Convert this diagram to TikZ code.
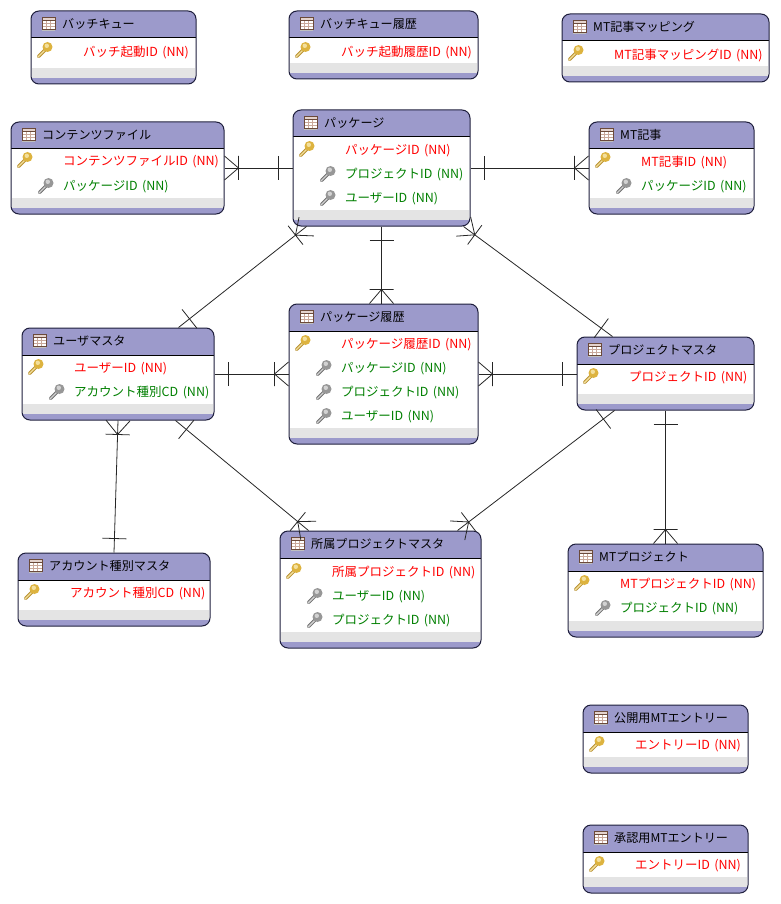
\documentclass[tikz,border=0pt]{standalone}
\usepackage{fontspec}
\setmainfont[WordSpace=1.6]{Noto Sans CJK JP}
\usetikzlibrary{calc,decorations.markings}
\definecolor{boxhead}{HTML}{9C9ACB}
\definecolor{boxline}{HTML}{1E1E3C}
\definecolor{boxgrey}{HTML}{E4E4E4}
\definecolor{iconline}{HTML}{6B4A3A}
\definecolor{iconcell}{HTML}{C9A89A}
\tikzset{tablebox/.style={
    draw=boxline,
    fill=white,
    line width=1pt,
    rounded corners=8pt,
    inner sep=0pt,
    path picture={
      \fill[boxhead,sharp corners] (path picture bounding box.north west) rectangle ([yshift=-27pt]path picture bounding box.north east);
      \draw[black,line width=1pt,sharp corners] ([yshift=-27pt]path picture bounding box.north west) -- ([yshift=-27pt]path picture bounding box.north east);
      \fill[boxgrey,sharp corners] ([yshift=16pt,xshift=1pt]path picture bounding box.south west) rectangle ([xshift=-1pt]path picture bounding box.south east);
      \fill[boxhead,sharp corners] ([yshift=6pt]path picture bounding box.south west) rectangle (path picture bounding box.south east);
    }},
  titletext/.style={anchor=west,inner sep=0pt,font=\fontsize{12.1}{14}\selectfont,text=black},
  pktext/.style={anchor=west,inner sep=0pt,font=\fontsize{12.5}{14}\selectfont,text=red},
  fktext/.style={anchor=west,inner sep=0pt,font=\fontsize{12.5}{14}\selectfont,text=green!50!black},
  erlink/.style={
    draw=black!85,
    line width=0.8pt,
    postaction={decorate},
    decoration={markings,
      mark=at position 14pt with {\draw[black!85,line width=0.8pt] (0pt,-12pt) -- (0pt,12pt);},
      mark=at position -14pt with {\draw[black!85,line width=0.8pt] (0pt,-12pt) -- (0pt,12pt) (14pt,-12pt) -- (0pt,0pt) -- (14pt,12pt);}}},
  pics/tableicon/.style={code={
    \fill[black!25] (0,1) rectangle (13,14);
    \fill[white] (0,0) rectangle (13,12);
    \fill[iconcell!50] (0,0) rectangle (13,3);
    \draw[iconcell,line width=0.5pt] (0,6) -- (13,6) (0,9) -- (13,9) (4.5,3) -- (4.5,12) (8.5,3) -- (8.5,12);
    \draw[iconline,line width=0.8pt] (0,0) rectangle (13,12) (0,3) -- (13,3);
  }},
  pics/pkkey/.style={code={\keyshape{KeyGoldDark}{KeyGold}{KeyGoldLight}}},
  pics/fkkey/.style={code={\keyshape{KeyGrayDark}{KeyGray}{KeyGrayLight}}}}
\definecolor{KeyGoldDark}{HTML}{B8902E}
\definecolor{KeyGold}{HTML}{DDB33F}
\definecolor{KeyGoldLight}{HTML}{F3DF9C}
\definecolor{KeyGrayDark}{HTML}{6E6E6E}
\definecolor{KeyGray}{HTML}{979797}
\definecolor{KeyGrayLight}{HTML}{D2D2D2}
\newcommand{\keyshape}[3]{%
  \draw[#1,line width=3.4pt,line cap=round] (9,7) -- (1.5,14.5);
  \draw[#3,line width=1.4pt,line cap=round] (8,8) -- (1.5,14.5);
  \fill[#2] (10.5,5) circle (5);
  \fill[#3] (9.8,3.8) circle (2.2);
}
% one table: name, left, top, right, bottom, title
\newcommand{\ertable}[6]{%
  \node[tablebox,minimum width={(#4-#2)*1pt},minimum height={(#5-#3)*1pt}] (#1) at ({(#2+#4)/2},{(#3+#5)/2}) {};
  \pic at ({#2+11},{#3+6}) {tableicon};
  \node[titletext] (#1-title) at ({#2+31},{#3+13}) {#6};
}
% key rows: name, x of key, x of text, y, text
\newcommand{\pkrow}[5]{%
  \pic at (#2,{#4-9}) {pkkey};
  \node[pktext] (#1) at (#3,{#4+1}) {#5};
}
\newcommand{\fkrow}[4]{%
  \pic at ({#2-25},{#3-8}) {fkkey};
  \node[fktext] (#1) at (#2,{#3+1}) {#4};
}
\begin{document}
\begin{tikzpicture}[x=1pt,y=-1pt]
\useasboundingbox (0,0) rectangle (780,904);

\ertable{queue}{31}{11}{196}{84}{バッチキュー}
\pkrow{queue-pk}{37}{83}{51}{バッチ起動ID (NN)}

\ertable{queuehist}{289}{11}{478}{79}{バッチキュー履歴}
\pkrow{queuehist-pk}{295}{341}{51}{バッチ起動履歴ID (NN)}

\ertable{mtmap}{562}{14}{769}{82}{MT記事マッピング}
\pkrow{mtmap-pk}{568}{614}{54}{MT記事マッピングID (NN)}

\ertable{content}{11}{122}{224}{214}{コンテンツファイル}
\pkrow{content-pk}{17}{63}{161}{コンテンツファイルID (NN)}
\fkrow{content-pkg}{63}{186}{パッケージID (NN)}

\ertable{pkg}{293}{110}{470}{226}{パッケージ}
\pkrow{pkg-pk}{299}{345}{150}{パッケージID (NN)}
\fkrow{pkg-prj}{345}{174}{プロジェクトID (NN)}
\fkrow{pkg-usr}{345}{198}{ユーザーID (NN)}

\ertable{mtpost}{589}{122}{754}{214}{MT記事}
\pkrow{mtpost-pk}{595}{641}{161}{MT記事ID (NN)}
\fkrow{mtpost-pkg}{641}{186}{パッケージID (NN)}

\ertable{user}{22}{328}{214}{420}{ユーザマスタ}
\pkrow{user-pk}{28}{74}{368}{ユーザーID (NN)}
\fkrow{user-acc}{74}{392}{アカウント種別CD (NN)}

\ertable{hist}{289}{304}{478}{444}{パッケージ履歴}
\pkrow{hist-pk}{295}{341}{344}{パッケージ履歴ID (NN)}
\fkrow{hist-pkg}{341}{368}{パッケージID (NN)}
\fkrow{hist-prj}{341}{392}{プロジェクトID (NN)}
\fkrow{hist-usr}{341}{416}{ユーザーID (NN)}

\ertable{project}{577}{337}{754}{410}{プロジェクトマスタ}
\pkrow{project-pk}{583}{629}{377}{プロジェクトID (NN)}

\ertable{account}{18}{553}{210}{626}{アカウント種別マスタ}
\pkrow{account-pk}{24}{70}{593}{アカウント種別CD (NN)}

\ertable{belong}{280}{531}{481}{648}{所属プロジェクトマスタ}
\pkrow{belong-pk}{286}{332}{572}{所属プロジェクトID (NN)}
\fkrow{belong-usr}{332}{596}{ユーザーID (NN)}
\fkrow{belong-prj}{332}{620}{プロジェクトID (NN)}

\ertable{mtprj}{568}{544}{763}{637}{MTプロジェクト}
\pkrow{mtprj-pk}{574}{620}{584}{MTプロジェクトID (NN)}
\fkrow{mtprj-prj}{620}{608}{プロジェクトID (NN)}

\ertable{pubentry}{583}{705}{748}{773}{公開用MTエントリー}
\pkrow{pubentry-pk}{589}{635}{745}{エントリーID (NN)}

\ertable{okentry}{583}{825}{748}{893}{承認用MTエントリー}
\pkrow{okentry-pk}{589}{635}{865}{エントリーID (NN)}

\coordinate (pkg-sw) at ($(pkg.south west)+(14,0)$);
\coordinate (pkg-se) at ($(pkg.south east)+(-7,0)$);
\coordinate (user-ne) at ($(user.north east)+(-36,0)$);
\coordinate (user-se) at ($(user.south east)+(-39,0)$);
\coordinate (project-nw) at ($(project.north west)+(36,0)$);
\coordinate (project-sw) at ($(project.south west)+(38,0)$);
\coordinate (belong-nw) at ($(belong.north west)+(29,0)$);
\coordinate (belong-ne) at ($(belong.north east)+(-24,0)$);

\draw[erlink] (pkg.west) -- (content.east);
\draw[erlink] (pkg.east) -- (mtpost.west);
\draw[erlink] (pkg.south) -- (pkg.south |- hist.north);
\draw[erlink] (user-ne) -- (pkg-sw);
\draw[erlink] (project-nw) -- (pkg-se);
\draw[erlink] (user.east) -- (hist.west);
\draw[erlink] (project.west |- hist.east) -- (hist.east);
\draw[erlink] (account.north) -- (user.south);
\draw[erlink] (user-se) -- (belong-nw);
\draw[erlink] (project-sw) -- (belong-ne);
\draw[erlink] (project.south) -- (mtprj.north);
\end{tikzpicture}
\end{document}
